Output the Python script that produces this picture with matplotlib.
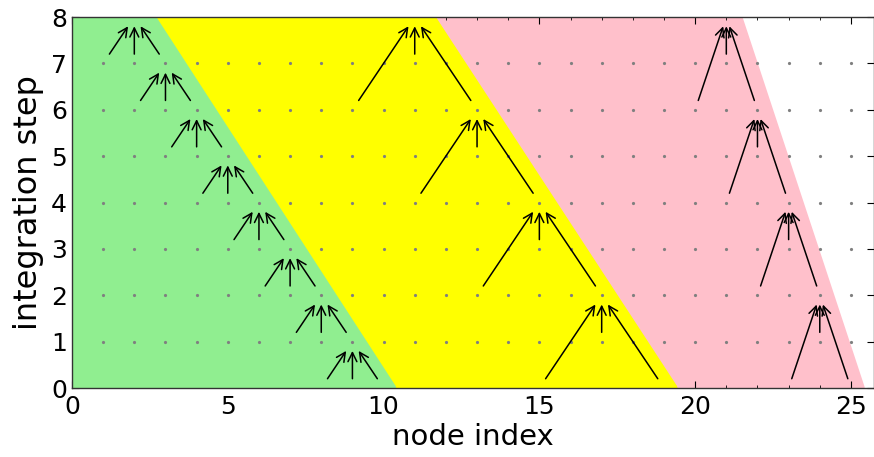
import numpy as np
import matplotlib
matplotlib.use("Agg")
import matplotlib.pyplot as plt
from matplotlib.patches import Polygon

# ---- data ----
region_colors = ["#90EE90", "#FFFF00", "#FFC0CB"]
region_left_bottom = [0.0, 10.27, 19.3]
region_right_bottom = [10.27, 19.3, 25.31]
region_left_top = [0.0, 2.55, 11.52]
region_right_top = [2.55, 11.52, 21.38]

green_tx = [2, 3, 4, 5, 6, 7, 8, 9]
green_ty = [8, 7, 6, 5, 4, 3, 2, 1]
green_src = [(-1, -1), (0, -1), (1, -1)]

yellow_tx = [11, 13, 15, 17]
yellow_ty = [8, 6, 4, 2]
yellow_src = [(-2, -2), (0, -1), (2, -2)]

pink_tx = [21, 22, 23, 24]
pink_ty = [8, 6, 4, 2]
pink_src = [(-1, -2), (0, -1), (1, -2)]

grid_x = list(range(1, 26))
grid_y = list(range(1, 8))

xticks = [0, 5, 10, 15, 20, 25]
yticks = [0, 1, 2, 3, 4, 5, 6, 7, 8]

# ---- figure ----
fig = plt.figure(figsize=(8.74, 4.57), dpi=100)
ax = fig.add_axes([72/874, 69/457, 802/874, 371/457])
ax.set_xlim(0, 25.74)
ax.set_ylim(0, 8)

zs = [3, 2, 1]
for c, lb, rb, lt, rt, z in zip(region_colors, region_left_bottom, region_right_bottom,
                               region_left_top, region_right_top, zs):
    poly = Polygon([(lb, 0), (rb, 0), (rt, 8), (lt, 8)], closed=True,
                   facecolor=c, edgecolor=c, lw=6, joinstyle="round", zorder=z)
    ax.add_patch(poly)

gx, gy = np.meshgrid(grid_x, grid_y)
ax.plot(gx.ravel(), gy.ravel(), "o", color="#808080", ms=2.3, mec="none", zorder=4)

shrink = 0.2
for txs, tys, srcs in [(green_tx, green_ty, green_src),
                       (yellow_tx, yellow_ty, yellow_src),
                       (pink_tx, pink_ty, pink_src)]:
    for tx, ty in zip(txs, tys):
        for dx, dy in srcs:
            sx, sy = tx + dx, ty + dy
            ux, uy = (tx - sx) / (ty - sy), 1.0
            start = (sx + shrink * ux, sy + shrink * uy)
            end = (tx - shrink * ux, ty - shrink * uy)
            ax.annotate("", xy=end, xytext=start,
                        arrowprops=dict(arrowstyle="->,head_length=0.65,head_width=0.32",
                                        color="black", lw=1.1,
                                        shrinkA=0, shrinkB=0),
                        zorder=5)

ax.set_xticks(xticks)
ax.set_yticks(yticks)
ax.set_xticks(range(0, 26), minor=True)
ax.tick_params(which="both", direction="in", top=True, right=True,
               labelsize=18, colors="black")
ax.tick_params(which="major", length=5, width=0.8)
ax.tick_params(which="minor", length=2.5, width=0.6)
ax.tick_params(axis="x", pad=5)
for s in ax.spines.values():
    s.set_linewidth(1.0)
    s.set_color("#333333")
    s.set_zorder(6)

ax.set_xlabel("node index", fontsize=21, labelpad=3)
ax.set_ylabel("integration step", fontsize=23, labelpad=5)

fig.savefig("out.png", dpi=100)
